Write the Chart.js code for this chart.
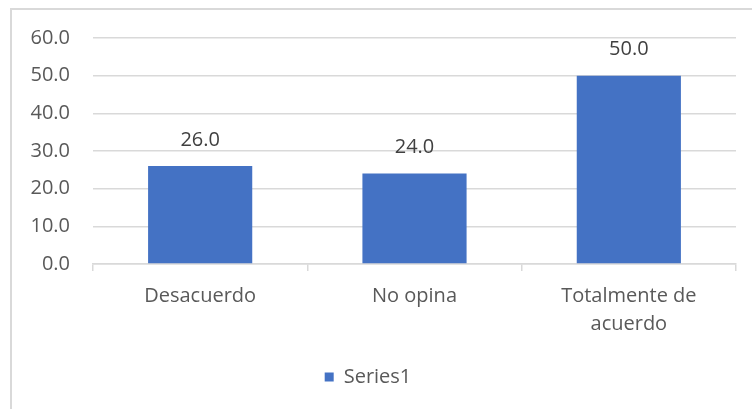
<!DOCTYPE html>
<html>
<head>
<meta charset="utf-8">
<script src="https://cdn.jsdelivr.net/npm/chart.js@4.4.1/dist/chart.umd.min.js"></script>
<style>
  html, body { margin: 0; padding: 0; background: #ffffff; }
  #wrap { position: relative; width: 752px; height: 409px; overflow: hidden; }
  #frame { position: absolute; left: 10px; top: 8px; width: 800px; height: 500px;
           border-left: 2px solid #D9D9D9; border-top: 2px solid #D9D9D9; box-sizing: border-box; }
  canvas { position: absolute; left: 0; top: 0; }
</style>
</head>
<body>
<div id="wrap">
  <div id="frame"></div>
  <canvas id="chart" width="752" height="409"></canvas>
</div>
<script>
// Response categories (multi-line labels as arrays)
const categories = ['Desacuerdo', 'No opina', ['Totalmente de', 'acuerdo']];
// Percentages per response
const series1 = [26.0, 24.0, 50.0];
const seriesName = 'Series1';
// Value axis ticks
const yMin = 0;
const yMax = 60;
const yStep = 10;

const FONT = '"Open Sans", "Noto Sans", sans-serif';
const TEXT = '#595959';
const GRID = '#D9D9D9';
const BAR = '#4472C4';

// Writes each bar's value above it
const valueLabels = {
  id: 'valueLabels',
  afterDatasetsDraw(chart) {
    const ctx = chart.ctx;
    ctx.save();
    ctx.font = '20px ' + FONT;
    ctx.fillStyle = '#404040';
    ctx.textAlign = 'center';
    ctx.textBaseline = 'middle';
    chart.getDatasetMeta(0).data.forEach((bar, i) => {
      const v = chart.data.datasets[0].data[i];
      ctx.fillText(v.toFixed(1), bar.x, bar.y - 26);
    });
    ctx.restore();
  }
};

new Chart(document.getElementById('chart'), {
  type: 'bar',
  data: {
    labels: categories,
    datasets: [{
      label: seriesName,
      data: series1,
      backgroundColor: BAR,
      borderWidth: 0,
      categoryPercentage: 1.0,
      barPercentage: 0.486
    }]
  },
  options: {
    responsive: false,
    animation: false,
    events: [],
    layout: { padding: { top: 38, right: 16, bottom: 12, left: 0 } },
    plugins: {
      tooltip: { enabled: false },
      legend: {
        position: 'bottom',
        labels: {
          font: { family: FONT, size: 20 },
          color: TEXT,
          boxWidth: 9,
          boxHeight: 9,
          padding: 10,
          useBorderRadius: false
        }
      }
    },
    scales: {
      x: {
        offset: true,
        grid: {
          offset: true,
          drawOnChartArea: false,
          drawTicks: true,
          tickLength: 7,
          color: GRID,
          lineWidth: 1.5
        },
        border: { display: true, color: GRID, width: 1.5 },
        ticks: {
          font: { family: FONT, size: 20, lineHeight: 1.4 },
          color: TEXT,
          padding: 11,
          maxRotation: 0,
          autoSkip: false
        },
        afterFit(scale) { scale.height += 8; }
      },
      y: {
        min: yMin,
        max: yMax,
        grid: { color: GRID, lineWidth: 1.5, drawTicks: false },
        border: { display: false },
        ticks: {
          stepSize: yStep,
          font: { family: FONT, size: 20 },
          color: TEXT,
          padding: 23,
          callback: (v) => Number(v).toFixed(1)
        },
        afterFit(scale) { scale.width = 93; }
      }
    }
  },
  plugins: [valueLabels]
});
</script>
</body>
</html>
